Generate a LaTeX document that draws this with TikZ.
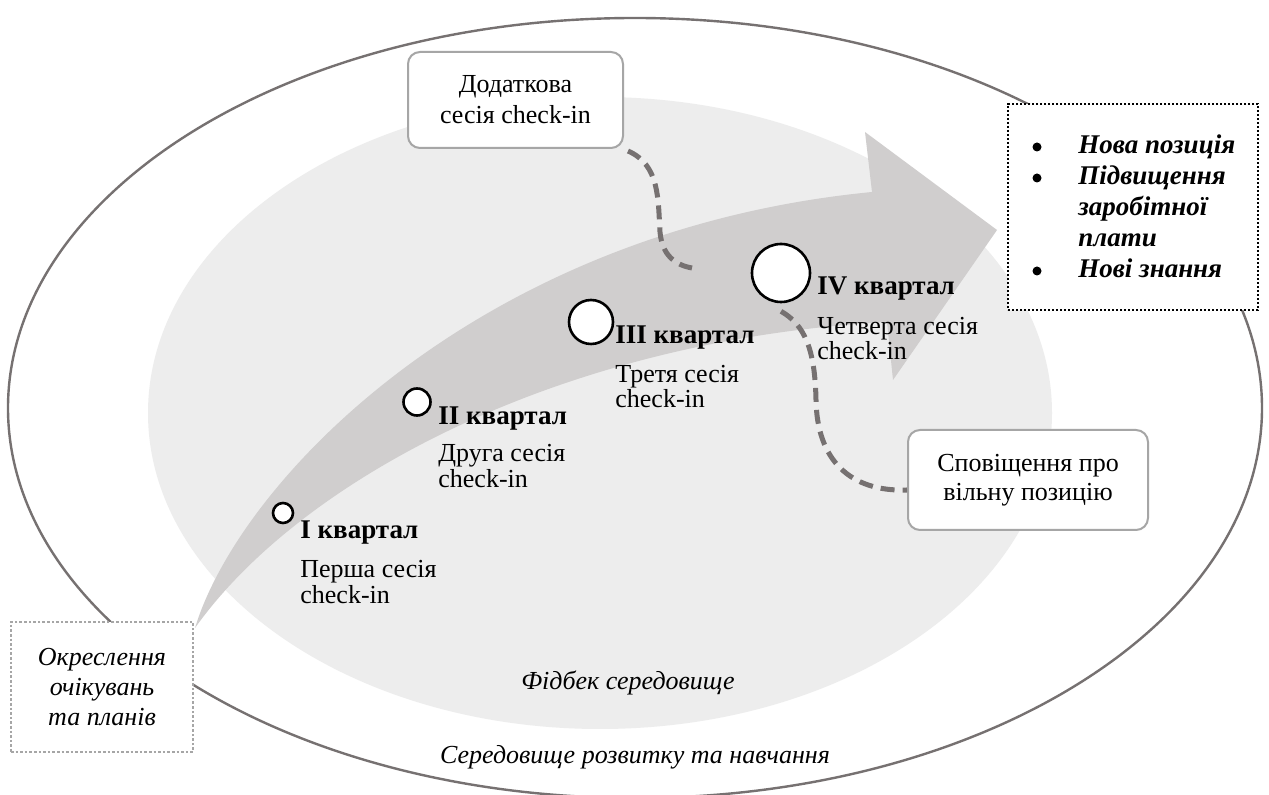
\documentclass[tikz,border=0pt]{standalone}
\usepackage{fontspec}
\setmainfont{Liberation Serif}
\usetikzlibrary{calc}
\definecolor{ringgray}{RGB}{118,113,113}
\definecolor{feedgray}{RGB}{237,237,237}
\definecolor{arrowgray}{RGB}{208,206,206}
\definecolor{boxgray}{RGB}{166,166,166}
\definecolor{dashgray}{RGB}{118,113,113}
\tikzset{
 txt/.style={font=\fontsize{13}{13.5}\selectfont, inner sep=0pt},
 lbl/.style={inner sep=0pt, font=\fontsize{13.5}{14}\selectfont\bfseries, anchor=base west},
 sub/.style={txt, anchor=base west},
 itxt/.style={inner sep=0pt, font=\fontsize{13}{13.5}\selectfont\itshape},
 bitxt/.style={inner sep=0pt, font=\fontsize{13.5}{14}\selectfont\bfseries\itshape, anchor=base west},
 dot/.style={circle, fill=black, inner sep=0pt, minimum size=4.5pt},
 stage/.style={circle, draw=black, fill=white, line width=1.3pt, inner sep=0pt},
 roundbox/.style={draw=boxgray, fill=white, line width=1pt, rounded corners=6pt, align=center, inner sep=0pt},
 link/.style={draw=dashgray, line width=2.5pt, dash pattern=on 7pt off 4pt},
}
\begin{document}
\begin{tikzpicture}[x=0.5pt,y=-0.5pt]
\useasboundingbox (0,0) rectangle (1269,795);
\clip (0,0) rectangle (1269,795);
\fill[white] (0,0) rectangle (1269,795);
% outer environment
\draw[ringgray, line width=1.2pt, fill=white] (635,408) ellipse [x radius=627, y radius=390];
% feedback environment
\fill[feedgray] (600,413) ellipse [x radius=452, y radius=316];
% big arrow
\fill[arrowgray] (195,628) .. controls (240,480) and (480,230) .. (872,192)
  -- (865,132) -- (997,230) -- (893,380) -- (887,322)
  .. controls (560,340) and (300,480) .. (195,628) -- cycle;
% boxes
\node[roundbox, minimum width=107.5pt, minimum height=48pt,
  font=\fontsize{13}{15.5}\selectfont] (extra) at (515.5,100) {Додаткова\\сесія check-in};
\node[roundbox, minimum width=120pt, minimum height=50pt,
  font=\fontsize{13}{14.5}\selectfont] (notify) at (1028,480) {Сповіщення про\\вільну позицію};
\node[draw=boxgray, line width=1.3pt, dash pattern=on 1.3pt off 1pt, fill=white,
  minimum width=91pt, minimum height=65pt, inner sep=0pt, align=center,
  font=\fontsize{13}{15}\selectfont\itshape] (plan) at (102,687) {Окреслення\\очікувань\\та планів};
\node[draw=black, line width=1.2pt, dash pattern=on 1.2pt off 0.8pt, fill=white,
  minimum width=125pt, minimum height=103pt, inner sep=0pt] (result) at (1133,207) {};
% stages
\node[stage, minimum size=10pt] (q1) at (283,513) {};
\node[stage, minimum size=13.5pt] (q2) at (417,402) {};
\node[stage, minimum size=22pt] (q3) at (591,322) {};
\node[stage, minimum size=29pt] (q4) at (781,273) {};
% connectors
\coordinate (extraend) at (692,268);
\draw[link] ([xshift=2pt,yshift=-1pt]extra.south east) .. controls (660,165) and (658,200) .. (660,232)
  .. controls (662,255) and (675,265) .. (extraend);
\draw[link] ([yshift=-4pt]q4.south) .. controls (805,325) and (815,350) .. (816,400)
  .. controls (817,460) and (850,492) .. ([yshift=-5pt]notify.west);
% labels
\node[lbl] (l1) at (300,539) {I квартал};
\node[sub] (s1a) at (300,578) {Перша сесія};
\node[sub] (s1b) at (300,604) {check-in};
\node[lbl] (l2) at (438,425) {II квартал};
\node[sub] (s2a) at (438,462) {Друга сесія};
\node[sub] (s2b) at (438,488) {check-in};
\node[lbl] (l3) at (615,344) {III квартал};
\node[sub] (s3a) at (615,383) {Третя сесія};
\node[sub] (s3b) at (615,408) {check-in};
\node[lbl] (l4) at (817,295) {IV квартал};
\node[sub] (s4a) at (817,335) {Четверта сесія};
\node[sub] (s4b) at (817,360) {check-in};
% results list
\node[dot] (b1) at (1037,147) {};
\node[bitxt] (r1) at (1078,154) {Нова позиція};
\node[dot] (b2) at (1037,178) {};
\node[bitxt] (r2) at (1078,185) {Підвищення};
\node[bitxt] (r3) at (1078,216) {заробітної};
\node[bitxt] (r4) at (1078,247) {плати};
\node[dot] (b3) at (1037,271) {};
\node[bitxt] (r5) at (1078,278) {Нові знання};
% environment captions
\node[itxt] (feed) at (628,683) {Фідбек середовище};
\node[itxt] (env) at (635,757) {Середовище розвитку та навчання};
\end{tikzpicture}
\end{document}
